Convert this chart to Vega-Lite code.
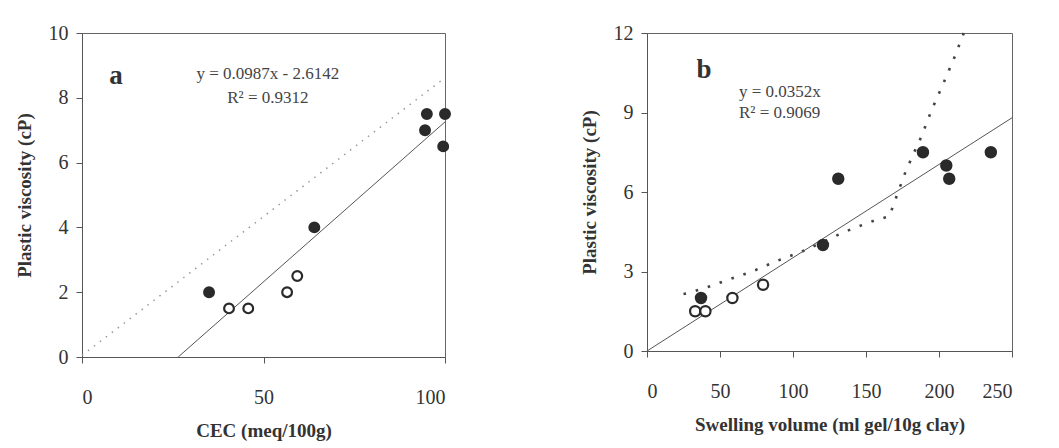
{
  "$schema": "https://vega.github.io/schema/vega-lite/v6.json",
  "padding": {"left": 14, "top": 22, "right": 5, "bottom": 5},
  "background": "white",
  "spacing": 124,
  "config": {
    "view": {"stroke": "#666", "strokeWidth": 1},
    "axis": {
      "grid": false,
      "labelFont": "Liberation Serif",
      "labelFontSize": 20,
      "labelColor": "#333",
      "titleFont": "Liberation Serif",
      "titleFontSize": 19,
      "titleFontWeight": "bold",
      "titleColor": "#333",
      "tickColor": "#555",
      "domainColor": "#555",
      "tickSize": 6
    },
    "axisX": {"labelPadding": 24, "titlePadding": 14},
    "axisY": {"labelPadding": 8, "titlePadding": 14}
  },
  "datasets": {
    "pa": [
      {"cec": 35, "pv": 2.0, "kind": "filled"},
      {"cec": 64, "pv": 4.0, "kind": "filled"},
      {"cec": 94.5, "pv": 7.0, "kind": "filled"},
      {"cec": 95, "pv": 7.5, "kind": "filled"},
      {"cec": 100, "pv": 7.5, "kind": "filled"},
      {"cec": 99.5, "pv": 6.5, "kind": "filled"},
      {"cec": 40.5, "pv": 1.5, "kind": "open"},
      {"cec": 45.8, "pv": 1.5, "kind": "open"},
      {"cec": 56.5, "pv": 2.0, "kind": "open"},
      {"cec": 59.3, "pv": 2.5, "kind": "open"}
    ],
    "la": [
      {"cec": 26.5, "pv": 0.0, "series": "fit"},
      {"cec": 100, "pv": 7.256, "series": "fit"},
      {"cec": 0, "pv": 0.05, "series": "ref"},
      {"cec": 100, "pv": 8.62, "series": "ref"}
    ],
    "ta": [
      {"cec": 51.2, "pv": 8.73, "label": "y = 0.0987x - 2.6142"},
      {"cec": 51.2, "pv": 8.0, "label": "R² = 0.9312"}
    ],
    "pb": [
      {"sv": 37, "pv": 2.0, "kind": "filled"},
      {"sv": 120.5, "pv": 4.0, "kind": "filled"},
      {"sv": 131, "pv": 6.5, "kind": "filled"},
      {"sv": 189, "pv": 7.5, "kind": "filled"},
      {"sv": 205, "pv": 7.0, "kind": "filled"},
      {"sv": 207, "pv": 6.5, "kind": "filled"},
      {"sv": 235.5, "pv": 7.5, "kind": "filled"},
      {"sv": 33, "pv": 1.5, "kind": "open"},
      {"sv": 40, "pv": 1.5, "kind": "open"},
      {"sv": 58.5, "pv": 2.0, "kind": "open"},
      {"sv": 79.5, "pv": 2.5, "kind": "open"}
    ],
    "lb": [
      {"sv": 0, "pv": 0},
      {"sv": 250, "pv": 8.8}
    ],
    "cb": [
      {"sv": 25, "pv": 2.15},
      {"sv": 29, "pv": 2.2},
      {"sv": 40, "pv": 2.38},
      {"sv": 55, "pv": 2.68},
      {"sv": 72, "pv": 3.0},
      {"sv": 89, "pv": 3.4},
      {"sv": 106, "pv": 3.75},
      {"sv": 120, "pv": 4.1},
      {"sv": 131.5, "pv": 4.4},
      {"sv": 140, "pv": 4.6},
      {"sv": 157, "pv": 4.95},
      {"sv": 166, "pv": 5.08},
      {"sv": 171, "pv": 5.85},
      {"sv": 177, "pv": 6.75},
      {"sv": 183, "pv": 7.5},
      {"sv": 188, "pv": 8.1},
      {"sv": 195, "pv": 9.1},
      {"sv": 203, "pv": 10.1},
      {"sv": 210, "pv": 11.0},
      {"sv": 217, "pv": 12.0}
    ],
    "tb": [
      {"sv": 63, "pv": 9.79, "label": "y = 0.0352x"},
      {"sv": 63, "pv": 8.98, "label": "R² = 0.9069"}
    ],
    "lettera": [{"cec": 9.4, "pv": 8.43, "label": "a"}],
    "letterb": [{"sv": 39, "pv": 10.3, "label": "b"}]
  },
  "hconcat": [
    {
      "width": 363,
      "height": 324,
      "encoding": {
        "x": {"field": "cec", "type": "quantitative", "scale": {"domain": [0, 100], "nice": false}, "axis": {"values": [0, 50, 100], "title": "CEC (meq/100g)"}},
        "y": {"field": "pv", "type": "quantitative", "scale": {"domain": [0, 10], "nice": false}, "axis": {"values": [0, 2, 4, 6, 8, 10], "title": "Plastic viscosity (cP)"}}
      },
      "layer": [
        {
          "data": {"name": "la"},
          "transform": [{"filter": "datum.series === 'ref'"}],
          "mark": {"type": "line", "color": "#999", "strokeWidth": 1.5, "strokeDash": [1.5, 6]}
        },
        {
          "data": {"name": "la"},
          "transform": [{"filter": "datum.series === 'fit'"}],
          "mark": {"type": "line", "color": "#555", "strokeWidth": 1}
        },
        {
          "data": {"name": "pa"},
          "mark": {"type": "circle", "size": 95, "stroke": "#2a2a2a", "strokeWidth": 2.2, "opacity": 1},
          "encoding": {
            "fill": {"field": "kind", "type": "nominal", "scale": {"domain": ["filled", "open"], "range": ["#2a2a2a", "white"]}, "legend": null}
          }
        },
        {
          "data": {"name": "ta"},
          "mark": {"type": "text", "font": "Liberation Serif", "fontSize": 17, "color": "#444", "align": "center", "baseline": "middle"},
          "encoding": {"text": {"field": "label"}}
        },
        {
          "data": {"name": "lettera"},
          "mark": {"type": "text", "font": "Liberation Serif", "fontSize": 27, "fontWeight": "bold", "color": "#333", "align": "center", "baseline": "alphabetic"},
          "encoding": {"text": {"field": "label"}}
        }
      ]
    },
    {
      "width": 365,
      "height": 318,
      "encoding": {
        "x": {"field": "sv", "type": "quantitative", "scale": {"domain": [0, 250], "nice": false}, "axis": {"values": [0, 50, 100, 150, 200, 250], "title": "Swelling volume (ml gel/10g clay)"}},
        "y": {"field": "pv", "type": "quantitative", "scale": {"domain": [0, 12], "nice": false}, "axis": {"values": [0, 3, 6, 9, 12], "title": "Plastic viscosity (cP)"}}
      },
      "layer": [
        {
          "data": {"name": "cb"},
          "mark": {"type": "line", "color": "#444", "strokeWidth": 2.6, "strokeDash": [2.6, 10]}
        },
        {
          "data": {"name": "lb"},
          "mark": {"type": "line", "color": "#555", "strokeWidth": 1}
        },
        {
          "data": {"name": "pb"},
          "mark": {"type": "circle", "size": 105, "stroke": "#2a2a2a", "strokeWidth": 2.2, "opacity": 1},
          "encoding": {
            "fill": {"field": "kind", "type": "nominal", "scale": {"domain": ["filled", "open"], "range": ["#2a2a2a", "white"]}, "legend": null}
          }
        },
        {
          "data": {"name": "tb"},
          "mark": {"type": "text", "font": "Liberation Serif", "fontSize": 17, "color": "#444", "align": "left", "baseline": "middle"},
          "encoding": {"text": {"field": "label"}}
        },
        {
          "data": {"name": "letterb"},
          "mark": {"type": "text", "font": "Liberation Serif", "fontSize": 27, "fontWeight": "bold", "color": "#333", "align": "center", "baseline": "alphabetic"},
          "encoding": {"text": {"field": "label"}}
        }
      ]
    }
  ]
}
